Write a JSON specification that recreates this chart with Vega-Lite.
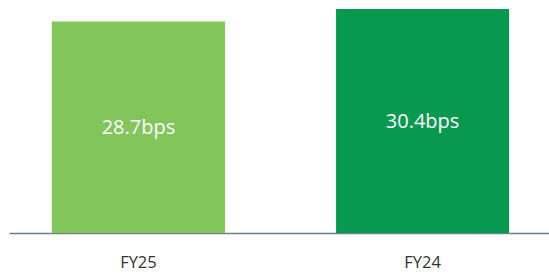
{
  "$schema": "https://vega.github.io/schema/vega-lite/v6.json",
  "autosize": "none",
  "padding": {"left": 9, "top": 9, "right": 0, "bottom": 41},
  "width": 543,
  "height": 224,
  "background": "white",
  "config": {"view": {"stroke": null}, "font": "Open Sans"},
  "data": {"values": [
    {"period": "FY25", "value": 28.7, "label": "28.7bps"},
    {"period": "FY24", "value": 30.4, "label": "30.4bps"}
  ]},
  "encoding": {
    "x": {
      "field": "period", "type": "nominal", "sort": null,
      "scale": {"paddingInner": 0.391, "paddingOuter": 0.151},
      "axis": {
        "title": null, "labelAngle": 0, "ticks": false, "grid": false,
        "domainColor": "#6e8089", "domainWidth": 1.5,
        "labelFont": "Open Sans", "labelFontSize": 16.5, "labelColor": "#333333",
        "labelPadding": 21
      }
    }
  },
  "layer": [
    {
      "mark": {"type": "bar"},
      "encoding": {
        "y": {"field": "value", "type": "quantitative", "scale": {"domain": [0, 30.4], "nice": false, "zero": true}, "axis": null},
        "color": {"field": "period", "type": "nominal", "scale": {"domain": ["FY25", "FY24"], "range": ["#82c55b", "#089950"]}, "legend": null}
      }
    },
    {
      "transform": [{"calculate": "datum.value / 2", "as": "mid"}],
      "mark": {"type": "text", "color": "white", "font": "Open Sans", "fontSize": 20, "baseline": "middle", "align": "center", "dy": 1},
      "encoding": {
        "y": {"field": "mid", "type": "quantitative", "scale": {"domain": [0, 30.4], "nice": false}},
        "text": {"field": "label"}
      }
    }
  ]
}
